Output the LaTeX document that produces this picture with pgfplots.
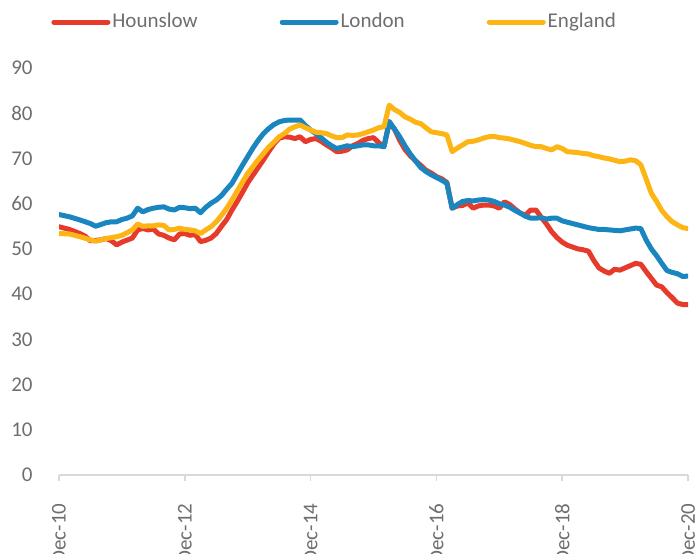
\documentclass[border=0pt]{standalone}
\usepackage{fontspec}
\setmainfont{Carlito}
\usepackage{pgfplots}
\pgfplotsset{compat=1.18}
\definecolor{cHou}{RGB}{230,59,43}
\definecolor{cLon}{RGB}{26,134,192}
\definecolor{cEng}{RGB}{253,181,22}
\definecolor{txtgray}{RGB}{110,110,110}
\definecolor{axgray}{RGB}{217,217,217}
\begin{document}
\begin{tikzpicture}
\useasboundingbox (0,0) rectangle (350pt,276.5pt);
\clip (0,0) rectangle (350pt,276.5pt);
\begin{axis}[
  at={(29.5pt,39pt)}, anchor=south west,
  scale only axis, width=314.5pt, height=203.5pt,
  xmin=0, xmax=120, ymin=0, ymax=90,
  axis x line*=bottom, axis y line*=left,
  x axis line style={draw=axgray, line width=0.8pt},
  y axis line style={draw=none},
  xtick={0,24,48,72,96,120},
  xticklabels={Dec-10,Dec-12,Dec-14,Dec-16,Dec-18,Dec-20},
  ytick={0,10,...,90},
  tick align=outside,
  major tick length=3pt,
  xtick style={draw=axgray, line width=0.8pt},
  ytick style={draw=none},
  /pgf/number format/assume math mode=true,
  tick label style={font=\fontsize{10.5}{12}\selectfont, text=txtgray},
  xticklabel style={rotate=90, anchor=east, inner sep=0pt, xshift=-11pt},
  yticklabel style={anchor=east, inner sep=0pt, xshift=-10pt},
  legend columns=3,
  legend style={at={(0,1)}, anchor=west, xshift=-4pt, yshift=23pt, draw=none, fill=none,
    font=\fontsize{10.5}{12}\selectfont, text=txtgray, inner sep=0pt,
    nodes={inner sep=1pt},
    /tikz/every even column/.append style={column sep=40pt}},
  legend image code/.code={\draw[#1, line width=2.5pt, line cap=round] (0pt,0pt) -- (27pt,0pt);},
  every axis plot/.append style={line width=2.5pt, line join=round, line cap=round},
]
\addplot[cHou] coordinates {
(0,54.9)(2,54.3)(4,53.4)(5,52.8)(6,51.8)(8,52.0)(9,52.3)(10,51.8)(11,50.9)(12,51.5)
(14,52.4)(15,54.2)(16,54.5)(17,54.2)(18,54.4)(19,53.3)(20,53.0)(21,52.4)(22,52.0)(23,53.3)
(24,53.4)(25,53.0)(26,53.2)(27,51.6)(28,51.9)(29,52.4)(30,53.4)(31,55.0)(32,56.5)(33,58.6)
(34,60.5)(35,62.5)(36,64.6)(37,66.3)(38,68.0)(39,69.7)(40,71.5)(41,73.2)(42,74.5)(43,74.8)
(44,74.7)(45,74.4)(46,74.8)(47,73.7)(48,74.2)(49,74.4)(50,73.8)(51,73.0)(52,72.3)(53,71.5)
(54,71.6)(55,71.9)(56,72.8)(57,73.3)(58,74.0)(59,74.4)(60,74.6)(61,73.5)(62,72.6)(63,77.8)
(64,76.5)(65,74.0)(66,72.0)(67,70.6)(68,69.5)(69,68.5)(70,67.4)(71,66.8)(72,66.0)(73,65.5)
(74,64.7)(75,59.0)(76,59.5)(77,59.6)(78,60.2)(79,59.0)(80,59.5)(81,59.7)(82,59.7)(83,59.5)
(84,59.0)(85,60.4)(86,59.8)(87,58.8)(88,57.9)(89,57.5)(90,58.6)(91,58.6)(92,57.0)(93,55.5)
(94,53.8)(95,52.5)(96,51.5)(97,50.8)(98,50.4)(99,50.0)(100,49.8)(101,49.5)(102,47.5)(103,45.8)
(104,45.1)(105,44.6)(106,45.5)(107,45.3)(108,45.8)(109,46.3)(110,46.8)(111,46.6)(112,45.0)(113,43.5)
(114,42.0)(115,41.6)(116,40.3)(117,39.2)(118,38.0)(119,37.7)(120,37.7)};
\addlegendentry{Hounslow}
\addplot[cLon] coordinates {
(0,57.6)(2,57.1)(4,56.4)(6,55.6)(7,55.0)(8,55.4)(9,55.8)(10,56.0)(11,56.0)(12,56.5)
(13,56.8)(14,57.3)(15,59.0)(16,58.2)(17,58.7)(18,59.0)(19,59.2)(20,59.3)(21,58.8)(22,58.6)
(23,59.2)(24,59.1)(25,58.9)(26,59.0)(27,58.0)(28,59.2)(29,60.1)(30,60.8)(31,61.8)(32,63.2)
(33,64.5)(34,66.5)(35,68.5)(36,70.4)(37,72.3)(38,74.0)(39,75.5)(40,76.6)(41,77.5)(42,78.1)
(43,78.4)(44,78.5)(45,78.5)(46,78.5)(47,77.3)(48,76.3)(49,75.5)(50,74.6)(51,73.6)(52,72.8)
(53,72.2)(54,72.5)(55,72.8)(56,72.6)(57,72.8)(58,73.0)(59,73.0)(60,72.8)(61,72.8)(62,72.6)
(63,78.2)(64,76.5)(65,74.8)(66,72.8)(67,71.0)(68,69.5)(69,68.0)(70,67.1)(71,66.4)(72,65.8)
(73,65.2)(74,64.5)(75,59.0)(76,59.8)(77,60.5)(78,60.7)(79,60.6)(80,60.8)(81,60.9)(82,60.8)
(83,60.5)(84,60.0)(85,59.7)(86,59.2)(87,58.5)(88,57.9)(89,57.2)(90,56.8)(91,56.8)(92,56.9)
(93,56.6)(94,56.8)(95,56.8)(96,56.2)(97,55.9)(98,55.6)(99,55.3)(100,55.0)(101,54.7)(102,54.5)
(103,54.3)(104,54.3)(105,54.2)(106,54.1)(107,54.0)(108,54.2)(109,54.4)(110,54.6)(111,54.5)(112,52.0)
(113,50.0)(114,48.5)(115,46.8)(116,45.2)(117,44.8)(118,44.5)(119,43.9)(120,44.0)};
\addlegendentry{London}
\addplot[cEng] coordinates {
(0,53.4)(2,53.3)(4,52.7)(6,52.0)(7,51.7)(8,52.0)(9,52.3)(10,52.5)(11,52.7)(12,53.0)
(13,53.6)(14,54.2)(15,55.5)(16,55.0)(17,55.1)(18,55.1)(19,55.3)(20,55.2)(21,54.2)(22,54.3)
(23,54.6)(24,54.3)(25,54.2)(26,54.0)(27,53.4)(28,54.2)(29,54.9)(30,56.0)(31,57.4)(32,59.0)
(33,60.8)(34,62.8)(35,64.8)(36,66.7)(37,68.2)(38,69.7)(39,71.1)(40,72.5)(41,73.6)(42,74.8)
(43,75.5)(44,76.5)(45,77.0)(46,77.4)(47,76.8)(48,76.3)(49,75.8)(50,75.7)(51,75.5)(52,75.0)
(53,74.6)(54,74.6)(55,75.2)(56,75.1)(57,75.2)(58,75.5)(59,75.9)(60,76.3)(61,76.8)(62,77.0)
(63,81.8)(64,80.8)(65,80.2)(66,79.2)(67,78.7)(68,78.0)(69,77.7)(70,76.8)(71,75.9)(72,75.7)
(73,75.5)(74,75.2)(75,71.5)(76,72.3)(77,73.0)(78,73.7)(79,73.8)(80,74.1)(81,74.5)(82,74.8)
(83,74.9)(84,74.6)(85,74.5)(86,74.3)(87,74.0)(88,73.7)(89,73.3)(90,72.9)(91,72.6)(92,72.6)
(93,72.2)(94,71.9)(95,72.6)(96,72.2)(97,71.5)(98,71.4)(99,71.3)(100,71.1)(101,71.0)(102,70.6)
(103,70.4)(104,70.1)(105,69.9)(106,69.6)(107,69.3)(108,69.4)(109,69.7)(110,69.5)(111,68.6)(112,65.5)
(113,62.3)(114,60.5)(115,58.5)(116,57.1)(117,56.0)(118,55.3)(119,54.7)(120,54.5)};
\addlegendentry{England}
\end{axis}
\end{tikzpicture}
\end{document}
